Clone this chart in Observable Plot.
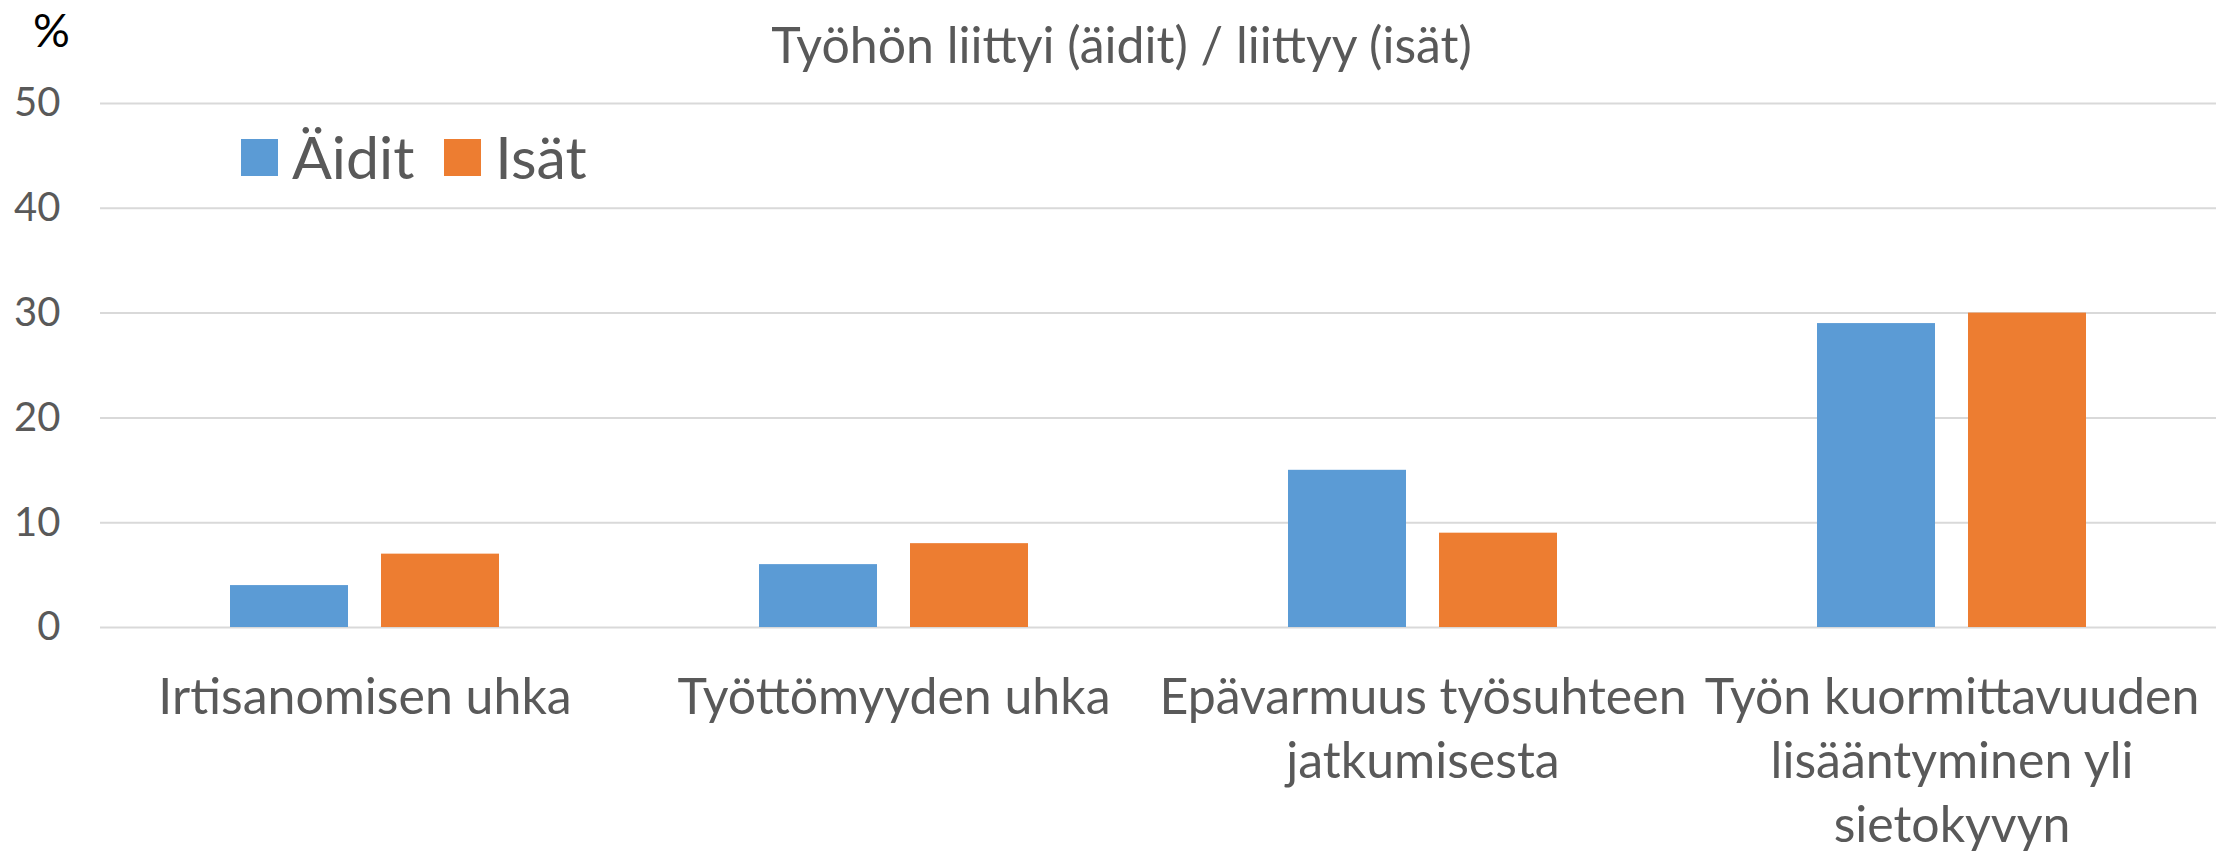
<!DOCTYPE html>
<html>
<head>
<meta charset="utf-8">
<script src="https://cdn.jsdelivr.net/npm/d3@7"></script>
<script src="https://cdn.jsdelivr.net/npm/@observablehq/plot@0.6"></script>
<style>
  html, body { margin: 0; padding: 0; background: #fff; }
  body { width: 2223px; height: 852px; overflow: hidden; font-family: Lato, "Open Sans", sans-serif; }
  #wrap { position: relative; width: 2223px; height: 852px; }
  #header { position: relative; width: 2223px; height: 78px; }
  #unit { position: absolute; left: 33px; top: 4px; font-size: 46px; color: #000; line-height: 52px; }
  #title { position: absolute; left: 10px; width: 2223px; top: 16px; text-align: center; font-size: 50px; color: #595959; line-height: 56px; }
  #chart svg { overflow: visible; }
  #legend { position: absolute; left: 241px; top: 127px; display: flex; align-items: center; height: 60px; }
  .item { display: flex; align-items: center; margin-right: 30px; }
  .swatch { width: 37px; height: 37px; margin-right: 14px; }
  .lab { font-size: 59px; color: #595959; line-height: 60px; }
</style>
</head>
<body>
<div id="wrap">
  <div id="header"><div id="unit">%</div><div id="title">Työhön liittyi (äidit) / liittyy (isät)</div></div>
  <div id="chart"></div>
  <div id="legend"></div>
</div>
<script>
const categories = [
  "Irtisanomisen uhka",
  "Työttömyyden uhka",
  "Epävarmuus työsuhteen jatkumisesta",
  "Työn kuormittavuuden lisääntyminen yli sietokyvyn"
];
const categoryLabels = [
  "Irtisanomisen uhka",
  "Työttömyyden uhka",
  "Epävarmuus työsuhteen\njatkumisesta",
  "Työn kuormittavuuden\nlisääntyminen yli\nsietokyvyn"
];
const series = ["Äidit", "Isät"];
const aiditValues = [4, 6, 15, 29];
const isatValues = [7, 8, 9, 30];
const colors = ["#5B9BD5", "#ED7D31"];
const yTicks = [0, 10, 20, 30, 40, 50];

const data = categories.flatMap((c, i) => [
  {category: c, group: series[0], value: aiditValues[i]},
  {category: c, group: series[1], value: isatValues[i]}
]);

const chart = Plot.plot({
  width: 2223,
  height: 774,
  marginTop: 25,
  marginBottom: 225,
  marginLeft: 100,
  marginRight: 7,
  style: {fontFamily: "Lato, 'Open Sans', sans-serif", background: "#fff"},
  fx: {domain: categories, padding: 0, label: null},
  x: {domain: series, paddingInner: 0.22, paddingOuter: 0.853, axis: null},
  y: {domain: [0, 50], label: null},
  color: {domain: series, range: colors},
  marks: [
    Plot.gridY(yTicks, {stroke: "#D9D9D9", strokeOpacity: 1, strokeWidth: 2}),
    Plot.axisY(yTicks, {tickSize: 0, tickPadding: 40, fontSize: 40, color: "#595959", label: null}),
    Plot.axisFx({anchor: "bottom", tickSize: 0, tickPadding: 41, fontSize: 50, lineHeight: 1.28, color: "#595959", label: null,
      tickFormat: c => categoryLabels[categories.indexOf(c)]}),
    Plot.barY(data, {fx: "category", x: "group", y: "value", fill: "group"})
  ]
});
document.getElementById("chart").appendChild(chart);

const legend = document.getElementById("legend");
series.forEach((s, i) => {
  const item = document.createElement("div");
  item.className = "item";
  const sw = document.createElement("div");
  sw.className = "swatch";
  sw.style.background = colors[i];
  const lab = document.createElement("span");
  lab.className = "lab";
  lab.textContent = s;
  item.appendChild(sw);
  item.appendChild(lab);
  legend.appendChild(item);
});
</script>
</body>
</html>
